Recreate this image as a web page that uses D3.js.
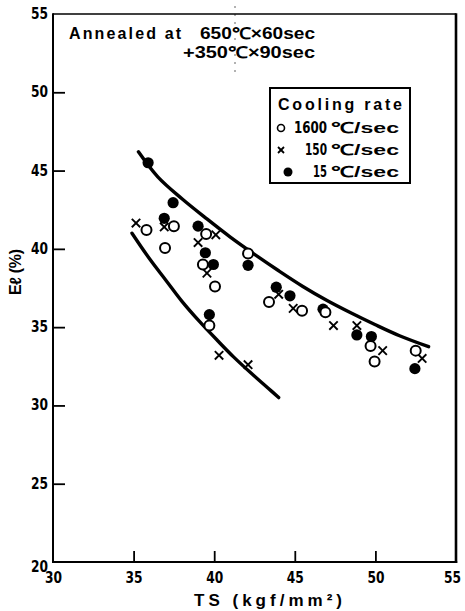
<!DOCTYPE html>
<html>
<head>
<meta charset="utf-8">
<script src="https://cdn.jsdelivr.net/npm/d3@7"></script>
<style>
  html, body { margin: 0; padding: 0; background: #fff; }
  svg { display: block; }
  text { font-family: "Liberation Sans", Arial, sans-serif; font-weight: bold; fill: #000; }
</style>
</head>
<body>
<svg id="chart" width="465" height="611"></svg>
<script>
// Tensile strength (kgf/mm²) vs elongation (%) by cooling rate
const xTicks = [30, 35, 40, 45, 50, 55];
const yTicks = [20, 25, 30, 35, 40, 45, 50, 55];

// 1600 °C/sec (open circles)
const fastTS = [35.8, 36.95, 37.5, 39.5, 39.3, 42.1, 40.05, 39.7, 43.4, 45.45, 46.9, 49.7, 49.95, 52.5];
const fastEl = [41.2, 40.05, 41.45, 40.95, 39.0, 39.7, 37.6, 35.1, 36.6, 36.05, 35.95, 33.8, 32.8, 33.5];

// 150 °C/sec (crosses)
const midTS = [35.15, 36.9, 40.1, 39.0, 39.55, 44.0, 44.9, 47.4, 48.85, 50.45, 52.9, 40.3, 42.1];
const midEl = [41.65, 41.4, 40.9, 40.4, 38.45, 37.1, 36.2, 35.1, 35.1, 33.5, 33.0, 33.2, 32.6];

// 15 °C/sec (filled circles)
const slowTS = [35.9, 37.45, 36.9, 39.0, 39.45, 39.95, 42.1, 43.85, 44.7, 46.75, 48.85, 49.75, 52.45, 39.7];
const slowEl = [45.5, 42.95, 41.95, 41.45, 39.75, 39.0, 38.95, 37.55, 37.0, 36.15, 34.5, 34.4, 32.35, 35.8];

// Trend curves drawn by hand through the data
const upperTS = [35.3, 36.5, 38.0, 39.5, 41.0, 42.5, 44.0, 45.5, 47.0, 48.5, 50.0, 51.5, 53.3];
const upperEl = [46.2, 44.6, 43.2, 41.95, 40.75, 39.65, 38.6, 37.6, 36.7, 35.9, 35.15, 34.45, 33.75];
const lowerTS = [34.9, 36.0, 37.0, 38.0, 39.1, 40.2, 41.2, 42.3, 43.35, 44.0];
const lowerEl = [41.0, 39.35, 38.0, 36.65, 35.35, 34.15, 33.1, 32.05, 31.1, 30.5];

const legendNums = ["1600", "150", "15"];
const legendUnit = "℃/sec";

const svg = d3.select("#chart");
const x = d3.scaleLinear().domain([30, 55]).range([53, 456]);
const y = d3.scaleLinear().domain([20, 55]).range([562, 14]);
const narrow = "'Liberation Sans Narrow','DejaVu Sans Condensed','Liberation Sans',sans-serif";

// Y axis with inward ticks
const yAxis = svg.append("g")
  .attr("transform", `translate(${x(30)},0)`)
  .call(d3.axisLeft(y).tickValues(yTicks).tickSize(-12).tickPadding(5).tickFormat(d3.format("d")));
yAxis.select(".domain").remove();
yAxis.selectAll(".tick line").attr("stroke", "#000").attr("stroke-width", 1.8);
yAxis.selectAll(".tick").filter(d => d === 20 || d === 55).select("line").remove();
yAxis.selectAll(".tick text")
  .style("font-family", narrow).style("font-size", "15px").style("font-weight", "bold")
  .attr("fill", "#000")
  .attr("textLength", 17).attr("lengthAdjust", "spacingAndGlyphs")
  .attr("dy", d => d === 20 ? "0.6em" : "0.3em");

// X axis with inward ticks
const xAxis = svg.append("g")
  .attr("transform", `translate(0,${y(20)})`)
  .call(d3.axisBottom(x).tickValues(xTicks).tickSize(-11).tickPadding(8).tickFormat(d3.format("d")));
xAxis.select(".domain").remove();
xAxis.selectAll(".tick line").attr("stroke", "#000").attr("stroke-width", 1.8);
xAxis.selectAll(".tick").filter(d => d === 30 || d === 55).select("line").remove();
xAxis.selectAll(".tick text")
  .style("font-family", narrow).style("font-size", "15px").style("font-weight", "bold")
  .attr("fill", "#000")
  .attr("textLength", 17).attr("lengthAdjust", "spacingAndGlyphs")
  .attr("dx", d => d === 55 ? -4 : 0)
  .attr("dy", "0.85em");

// Plot frame
const frame = svg.append("g").attr("fill", "none").attr("stroke", "#000");
frame.append("line").attr("x1", x(30)).attr("x2", x(55)).attr("y1", y(55)).attr("y2", y(55)).attr("stroke-width", 1.6);
frame.append("line").attr("x1", x(30)).attr("x2", x(30)).attr("y1", y(55) - 0.8).attr("y2", y(20) + 1).attr("stroke-width", 2);
frame.append("line").attr("x1", x(30) - 1).attr("x2", x(55) + 1.2).attr("y1", y(20)).attr("y2", y(20)).attr("stroke-width", 2.2);
frame.append("line").attr("x1", x(55)).attr("x2", x(55)).attr("y1", y(55) - 0.8).attr("y2", y(20) + 1).attr("stroke-width", 2.6);

// Axis titles
svg.append("text")
  .attr("x", 268).attr("y", 606)
  .attr("text-anchor", "middle")
  .style("font-size", "17px")
  .attr("textLength", 148).attr("lengthAdjust", "spacing")
  .text("TS (kgf/mm²)");
svg.append("text")
  .attr("transform", `translate(21,${272}) rotate(-90)`)
  .attr("text-anchor", "middle")
  .style("font-size", "16px")
  .attr("textLength", 46).attr("lengthAdjust", "spacing")
  .text("Eℓ (%)");

// Trend curves
const curve = d3.line().x(d => x(d[0])).y(d => y(d[1])).curve(d3.curveCatmullRom.alpha(0.5));
svg.append("path")
  .attr("d", curve(d3.zip(upperTS, upperEl)))
  .attr("fill", "none").attr("stroke", "#000").attr("stroke-width", 3.4).attr("stroke-linecap", "round");
svg.append("path")
  .attr("d", curve(d3.zip(lowerTS, lowerEl)))
  .attr("fill", "none").attr("stroke", "#000").attr("stroke-width", 3.4).attr("stroke-linecap", "round");

// Markers
function drawCross(g, cx, cy, s, w) {
  g.append("line").attr("x1", cx - s).attr("y1", cy - s).attr("x2", cx + s).attr("y2", cy + s)
    .attr("stroke", "#000").attr("stroke-width", w);
  g.append("line").attr("x1", cx - s).attr("y1", cy + s).attr("x2", cx + s).attr("y2", cy - s)
    .attr("stroke", "#000").attr("stroke-width", w);
}
const marks = svg.append("g");
marks.selectAll("circle.slow")
  .data(d3.zip(slowTS, slowEl)).join("circle")
  .attr("class", "slow")
  .attr("cx", d => x(d[0])).attr("cy", d => y(d[1])).attr("r", 5.6)
  .attr("fill", "#000");
const crossG = marks.append("g");
d3.zip(midTS, midEl).forEach(d => drawCross(crossG, x(d[0]), y(d[1]), 4.2, 1.9));
marks.selectAll("circle.fast")
  .data(d3.zip(fastTS, fastEl)).join("circle")
  .attr("class", "fast")
  .attr("cx", d => x(d[0])).attr("cy", d => y(d[1])).attr("r", 5)
  .attr("fill", "#fff").attr("stroke", "#000").attr("stroke-width", 2);

// Annotation
const note = svg.append("g").style("font-size", "16px");
note.append("text").attr("x", 69).attr("y", 39)
  .attr("textLength", 112).attr("lengthAdjust", "spacing").text("Annealed at");
note.append("text").attr("x", 200).attr("y", 39)
  .attr("textLength", 115).attr("lengthAdjust", "spacingAndGlyphs").text("650℃×60sec");
note.append("text").attr("x", 183).attr("y", 58)
  .attr("textLength", 132).attr("lengthAdjust", "spacingAndGlyphs").text("+350℃×90sec");
svg.append("line").attr("x1", 235).attr("x2", 235).attr("y1", 6).attr("y2", 78)
  .attr("stroke", "#000").attr("stroke-width", 1).attr("stroke-dasharray", "2,6").attr("opacity", 0.6);

// Legend
const lg = svg.append("g");
lg.append("rect").attr("x", 270).attr("y", 88).attr("width", 140).attr("height", 95)
  .attr("fill", "#fff").attr("stroke", "#000").attr("stroke-width", 2);
lg.append("text").attr("x", 278).attr("y", 110).style("font-size", "16px")
  .attr("textLength", 124).attr("lengthAdjust", "spacing").text("Cooling rate");
const rowY = [128, 150, 172];
const numWidth = [33, 22, 14];
legendNums.forEach((n, i) => {
  lg.append("text").attr("x", 327 - numWidth[i]).attr("y", rowY[i] + 5)
    .style("font-size", "15px").style("font-family", narrow)
    .attr("textLength", numWidth[i]).attr("lengthAdjust", "spacingAndGlyphs").text(n);
  lg.append("text").attr("x", 331).attr("y", rowY[i] + 5)
    .style("font-size", "15px")
    .attr("textLength", 68).attr("lengthAdjust", "spacingAndGlyphs").text(legendUnit);
});
lg.append("circle").attr("cx", 281).attr("cy", rowY[0]).attr("r", 3.5)
  .attr("fill", "#fff").attr("stroke", "#000").attr("stroke-width", 1.6);
drawCross(lg, 281, rowY[1], 3, 1.8);
lg.append("circle").attr("cx", 288).attr("cy", rowY[2]).attr("r", 4.5).attr("fill", "#000");
</script>
</body>
</html>
